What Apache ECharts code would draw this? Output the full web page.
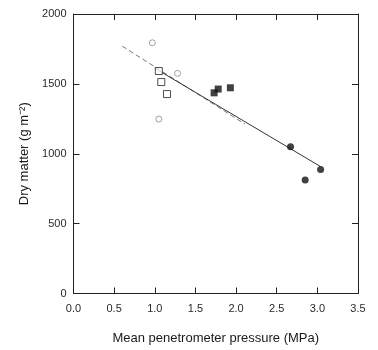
<!DOCTYPE html>
<html><head><meta charset="utf-8">
<script src="https://cdn.jsdelivr.net/npm/echarts@6/dist/echarts.min.js"></script>
<style>html,body{margin:0;padding:0;background:#fff}#c{width:378px;height:350px}</style>
</head><body><div id="c"></div>
<script>
var openCircles = [[0.97,1794],[1.28,1575],[1.05,1248]];
var openSquares = [[1.05,1592],[1.08,1513],[1.15,1427]];
var filledSquares = [[1.73,1436],[1.78,1463],[1.93,1472]];
var filledCircles = [[2.67,1050],[2.85,812],[3.04,888]];
var fitSolid = [[1.0,1612],[3.04,908]];
var fitDashed = [[0.6,1770],[2.11,1212]];
var xTicks = ['0.0','0.5','1.0','1.5','2.0','2.5','3.0','3.5'];
var yTicks = ['0','500','1000','1500','2000'];

var chart = echarts.init(document.getElementById('c'));
var font = 'Liberation Sans, Arial, sans-serif';
var lab = {color:'#2a2a2a', fontSize:11, fontFamily:font};
function line(){return {onZero:false,lineStyle:{color:'#222',width:1}};}
function tick(){return {inside:true,length:6,lineStyle:{color:'#222'}};}
chart.setOption({
  animation:false,
  grid:{left:73.5,right:20,top:14,bottom:56.5},
  xAxis:[{type:'value',min:0,max:3.5,interval:0.5,
    name:'Mean penetrometer pressure (MPa)',nameLocation:'middle',nameGap:38,
    nameTextStyle:{color:'#1a1a1a',fontSize:13,fontFamily:font},
    axisLine:line(),axisTick:tick(),
    axisLabel:Object.assign({margin:10,formatter:function(v){return xTicks[Math.round(v/0.5)];}},lab),
    splitLine:{show:false}},
   {type:'value',position:'top',min:0,max:3.5,interval:0.5,
    axisLine:line(),axisTick:tick(),
    axisLabel:{show:false},splitLine:{show:false}}],
  yAxis:[{type:'value',min:0,max:2000,interval:500,
    name:'Dry matter (g m\u207B\u00B2)',nameLocation:'middle',nameGap:36,
    nameTextStyle:{color:'#1a1a1a',fontSize:13,fontFamily:font},
    axisLine:line(),axisTick:tick(),
    axisLabel:Object.assign({margin:7,formatter:function(v){return yTicks[Math.round(v/500)];}},lab),
    splitLine:{show:false}},
   {type:'value',position:'right',min:0,max:2000,interval:500,
    axisLine:line(),axisTick:tick(),
    axisLabel:{show:false},splitLine:{show:false}}],
  series:[
    {type:'line',data:fitDashed,symbol:'none',lineStyle:{color:'#777',width:1,type:[5,3]},z:2},
    {type:'line',data:fitSolid,symbol:'none',lineStyle:{color:'#333',width:1},z:3},
    {type:'scatter',data:openCircles,symbol:'circle',symbolSize:6,itemStyle:{color:'#fff',borderColor:'#888',borderWidth:1},z:4},
    {type:'scatter',data:openSquares,symbol:'rect',symbolSize:7,itemStyle:{color:'#fff',borderColor:'#222',borderWidth:1},z:4},
    {type:'scatter',data:filledSquares,symbol:'rect',symbolSize:7,itemStyle:{color:'#111'},z:4},
    {type:'scatter',data:filledCircles,symbol:'circle',symbolSize:7,itemStyle:{color:'#111'},z:4}
  ]
});
</script></body></html>
